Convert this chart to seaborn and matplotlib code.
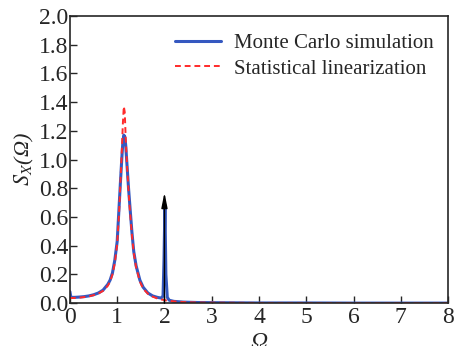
import matplotlib
matplotlib.use("Agg")
import matplotlib.pyplot as plt
import pandas as pd
import seaborn as sns

# Monte Carlo simulation
mc_omega = [0.0, 0.02, 0.1, 0.2, 0.3, 0.4, 0.5, 0.6, 0.7, 0.8, 0.85, 0.9, 0.95,
            1.0, 1.04, 1.07, 1.1, 1.12, 1.14, 1.16, 1.18, 1.21, 1.24, 1.27, 1.31,
            1.35, 1.4, 1.48, 1.55, 1.65, 1.75, 1.85, 1.93, 1.97, 1.99, 2.01, 2.03,
            2.06, 2.1, 2.2, 2.4, 2.7, 3.0, 3.5, 4.0, 5.0, 6.0, 7.0, 8.0]
mc_s = [0.08, 0.04, 0.04, 0.042, 0.045, 0.05, 0.058, 0.07, 0.09, 0.13, 0.16, 0.21, 0.3,
        0.43, 0.67, 0.85, 1.02, 1.12, 1.17, 1.16, 1.1, 0.95, 0.8, 0.67, 0.5,
        0.36, 0.26, 0.16, 0.11, 0.07, 0.05, 0.04, 0.035, 0.05, 0.3, 0.68, 0.2,
        0.04, 0.02, 0.012, 0.007, 0.004, 0.003, 0.002, 0.001, 0.001, 0.0, 0.0, 0.0]

# Statistical linearization
sl_omega = [0.0, 0.1, 0.2, 0.3, 0.4, 0.5, 0.6, 0.7, 0.8, 0.85, 0.9, 0.95,
            1.0, 1.04, 1.07, 1.1, 1.12, 1.14, 1.16, 1.18, 1.21, 1.24, 1.27, 1.31,
            1.35, 1.4, 1.48, 1.55, 1.65, 1.75, 1.85, 1.95, 2.05, 2.2, 2.4, 2.7,
            3.0, 3.5, 4.0, 5.0, 6.0, 7.0, 8.0]
sl_s = [0.035, 0.036, 0.038, 0.042, 0.047, 0.055, 0.066, 0.085, 0.12, 0.15, 0.2, 0.28,
        0.41, 0.63, 0.85, 1.08, 1.25, 1.37, 1.33, 1.15, 0.95, 0.78, 0.64, 0.48,
        0.35, 0.25, 0.15, 0.1, 0.065, 0.045, 0.032, 0.024, 0.018, 0.012, 0.007, 0.004,
        0.003, 0.002, 0.001, 0.001, 0.0, 0.0, 0.0]

# delta peak marked by an arrow
delta_omega = 2.0
delta_height = 0.77

df = pd.concat([
    pd.DataFrame({"omega": mc_omega, "S": mc_s, "method": "Monte Carlo simulation"}),
    pd.DataFrame({"omega": sl_omega, "S": sl_s, "method": "Statistical linearization"}),
])

sns.set_style("ticks")
plt.rcParams["font.family"] = ["Liberation Serif", "DejaVu Serif"]
plt.rcParams["mathtext.fontset"] = "stix"

fig = plt.figure(figsize=(4.54, 3.46), dpi=100)
ax = fig.add_axes([0.154, 0.124, 0.833, 0.83])

sns.lineplot(data=df, x="omega", y="S", hue="method", style="method",
             palette={"Monte Carlo simulation": "#3558c0",
                      "Statistical linearization": "#ff2a2a"},
             dashes={"Monte Carlo simulation": "", "Statistical linearization": (3, 2)},
             size="method",
             sizes={"Monte Carlo simulation": 2.2, "Statistical linearization": 1.4},
             ax=ax)

ax.annotate("", xy=(delta_omega, delta_height), xytext=(delta_omega, 0.0),
            arrowprops=dict(arrowstyle="-|>,head_length=0.9,head_width=0.18",
                            color="black", lw=1.0, shrinkA=0, shrinkB=0))

ax.set_xlim(0, 8)
ax.set_ylim(0, 2.0)
ax.set_xticks(range(0, 9))
ax.set_yticks([i / 10 for i in range(0, 21, 2)])
ax.set_yticklabels([f"{i / 10:.1f}" for i in range(0, 21, 2)])
ax.tick_params(direction="in", labelsize=17, length=5, width=1, pad=1)
ax.tick_params(axis="x", pad=3)
for sp in ax.spines.values():
    sp.set_linewidth(1.2)

ax.set_xlabel("Ω", fontsize=17, fontstyle="italic", labelpad=3)
ax.set_ylabel("$S_X$(Ω)", fontsize=16, fontstyle="italic", labelpad=2)

handles, labels = ax.get_legend_handles_labels()
ax.legend(handles[-2:] if len(handles) > 2 else handles,
          labels[-2:] if len(labels) > 2 else labels,
          loc="upper right", frameon=False, fontsize=15, handlelength=2.2,
          handletextpad=0.6, labelspacing=0.3, borderaxespad=0.3,
          bbox_to_anchor=(1.0, 0.99))

fig.savefig("out.png", dpi=100)
